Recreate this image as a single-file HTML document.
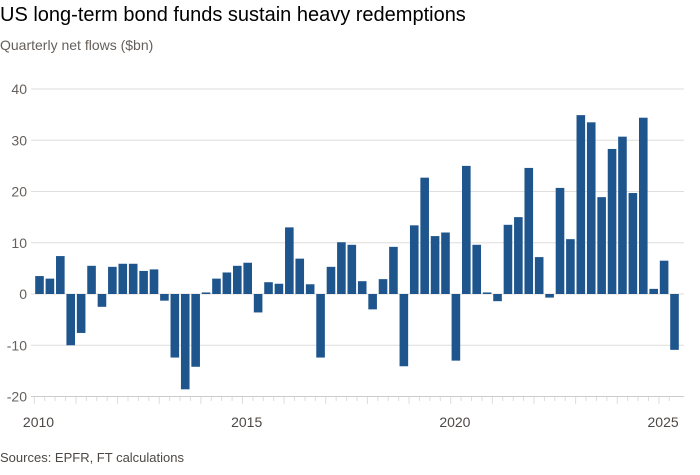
<!DOCTYPE html>
<html><head><meta charset="utf-8"><style>
body{margin:0;background:#fff;width:700px;height:470px;overflow:hidden;font-family:"Liberation Sans",sans-serif}
</style></head><body>
<svg width="700" height="470" xmlns="http://www.w3.org/2000/svg">
<text x="0" y="21" font-size="20" fill="#000">US long-term bond funds sustain heavy redemptions</text>
<text x="0" y="50" font-size="14" fill="#66605c">Quarterly net flows ($bn)</text>
<g id="grid"></g><g id="bars"></g><g id="xaxis"></g>
<text x="0" y="462" font-size="13" fill="#4d4845">Sources: EPFR, FT calculations</text>
</svg>
<script>
const values=[3.5,3.0,7.4,-10,-7.6,5.5,-2.5,5.3,5.9,5.9,4.5,4.8,-1.3,-12.4,-18.6,-14.2,0.3,3.0,4.2,5.5,
6.1,-3.6,2.3,2.0,13.0,6.9,1.9,-12.4,5.3,10.1,9.6,2.5,-3.0,2.9,9.2,-14.1,13.4,22.7,11.3,12.0,
-13.0,25.0,9.6,0.3,-1.4,13.5,15.0,24.6,7.2,-0.7,20.7,10.7,34.9,33.5,18.9,28.3,30.7,19.7,34.4,1.0,6.5,-10.9];
const yTicks=[40,30,20,10,0,-10,-20];
const yearLabels=["2010","2015","2020","2025"];
const startYear=2010;
const NS="http://www.w3.org/2000/svg";
const y=v=>294-v*5.125;
const xc=i=>39.5+i*10.41;
function mk(t,a,p){const e=document.createElementNS(NS,t);for(const k in a)e.setAttribute(k,a[k]);p.appendChild(e);return e;}
const g=document.getElementById('grid');
yTicks.forEach(t=>{
 const l=mk('line',{x1:31,x2:684,y1:y(t),y2:y(t),stroke:t===-20?'#ccc':'#e0ddda','stroke-width':1},g);
 
 
 const tx=mk('text',{x:27,y:y(t)+5,'font-size':14,fill:'#66605c','text-anchor':'end'},g);
 tx.textContent=t;
 
 
});
const b=document.getElementById('bars');
values.forEach((v,i)=>{
 const r=mk('rect',{x:xc(i)-4.3,width:8.6,y:Math.min(y(v),y(0)),height:Math.max(Math.abs(y(v)-y(0)),1),fill:'#1f558d'},b);
 
 
});
const xa=document.getElementById('xaxis');
values.forEach((v,i)=>{
 const yr=i%4===0;
 const l=mk('line',{x1:xc(i)-5.2,x2:xc(i)-5.2,y1:397,y2:yr?404:401,stroke:'#ddd','stroke-width':1},xa);
 
 
});
yearLabels.forEach(s=>{
 const i=(parseInt(s)-startYear)*4;
 const t=mk('text',{x:xc(i)-1,y:427,'font-size':14,fill:'#4d4845','text-anchor':'middle'},xa);
 t.textContent=s;
 
 
});
</script>
</body></html>
